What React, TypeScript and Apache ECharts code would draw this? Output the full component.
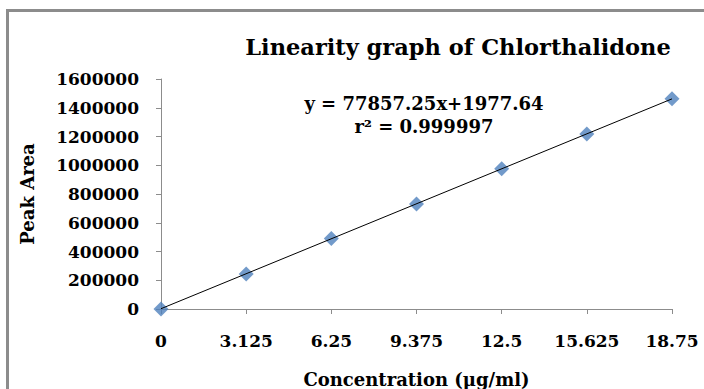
import React, { useEffect, useRef } from "react";
import * as echarts from "echarts";

// Concentration levels (µg/ml) and measured peak areas
const concentrations = [0, 3.125, 6.25, 9.375, 12.5, 15.625, 18.75];
const peakAreas = [0, 244100, 490500, 730800, 976400, 1217300, 1462500];

// Linear regression reported for the calibration
const slope = 77857.25;
const intercept = 1977.64;
const rSquared = "0.999997";

const yTicks = { min: 0, max: 1600000, interval: 200000 };

const FONT = '"DejaVu Serif", "Liberation Serif", serif';

export default function App() {
  const ref = useRef<HTMLDivElement>(null);

  useEffect(() => {
    if (!ref.current) return;
    const chart = echarts.init(ref.current, null, { renderer: "svg" });
    const xMin = concentrations[0];
    const xMax = concentrations[concentrations.length - 1];
    const fitLine = [
      [xMin, slope * xMin + intercept],
      [xMax, slope * xMax + intercept],
    ];

    chart.setOption({
      animation: false,
      backgroundColor: "#fff",
      textStyle: { fontFamily: FONT },
      title: {
        text: "Linearity graph of Chlorthalidone",
        left: 453,
        top: 30,
        textAlign: "center",
        textStyle: { fontFamily: FONT, fontWeight: "bold", fontSize: 22.5, color: "#000" },
      },
      grid: {
        left: 161,
        right: 32,
        top: 79,
        bottom: 80,
        containLabel: false,
        outerBoundsMode: "none",
      },
      xAxis: {
        type: "value",
        min: xMin,
        max: xMax,
        interval: 3.125,
        name: "Concentration (µg/ml)",
        nameLocation: "middle",
        nameGap: 61,
        nameTextStyle: { fontFamily: FONT, fontWeight: "bold", fontSize: 18, color: "#000" },
        axisLine: { lineStyle: { color: "#8c8c8c", width: 1 } },
        axisTick: { show: true, inside: false, length: 5, lineStyle: { color: "#8c8c8c" } },
        axisLabel: {
          margin: 23,
          fontFamily: FONT,
          fontWeight: "bold",
          fontSize: 17,
          color: "#000",
          formatter: (v: number) => String(v),
        },
        splitLine: { show: false },
      },
      yAxis: {
        type: "value",
        min: yTicks.min,
        max: yTicks.max,
        interval: yTicks.interval,
        name: "Peak Area",
        nameLocation: "middle",
        nameGap: 125,
        nameTextStyle: { fontFamily: FONT, fontWeight: "bold", fontSize: 18, color: "#000" },
        axisLine: { show: true, lineStyle: { color: "#8c8c8c", width: 1 } },
        axisTick: { show: true, length: 5, lineStyle: { color: "#8c8c8c" } },
        axisLabel: {
          margin: 22,
          fontFamily: FONT,
          fontWeight: "bold",
          fontSize: 17,
          color: "#000",
          formatter: (v: number) => String(v),
        },
        splitLine: { show: false },
      },
      graphic: [
        {
          type: "rect",
          shape: { x: 7.5, y: 10.5, width: 760, height: 420 },
          style: { fill: "none", stroke: "#8c8c8c", lineWidth: 3 },
          silent: true,
          z: 100,
        },
        {
          type: "text",
          x: 424,
          y: 103,
          style: {
            text: `y = ${slope}x+${intercept}`,
            align: "center",
            verticalAlign: "middle",
            font: `bold 18px ${FONT}`,
            fill: "#000",
          },
        },
        {
          type: "text",
          x: 424,
          y: 126,
          style: {
            text: `r² = ${rSquared}`,
            align: "center",
            verticalAlign: "middle",
            font: `bold 18px ${FONT}`,
            fill: "#000",
          },
        },
      ],
      series: [
        {
          type: "scatter",
          data: concentrations.map((c, i) => [c, peakAreas[i]]),
          symbol: "diamond",
          symbolSize: 15,
          itemStyle: { color: "#4f81bd" },
          z: 2,
        },
        {
          type: "line",
          data: fitLine,
          symbol: "none",
          lineStyle: { color: "#000", width: 1 },
          z: 3,
        },
      ],
    });
    return () => chart.dispose();
  }, []);

  return (
    <div
      ref={ref}
      style={{ position: "fixed", left: 0, top: 0, width: 704, height: 389 }}
    />
  );
}
